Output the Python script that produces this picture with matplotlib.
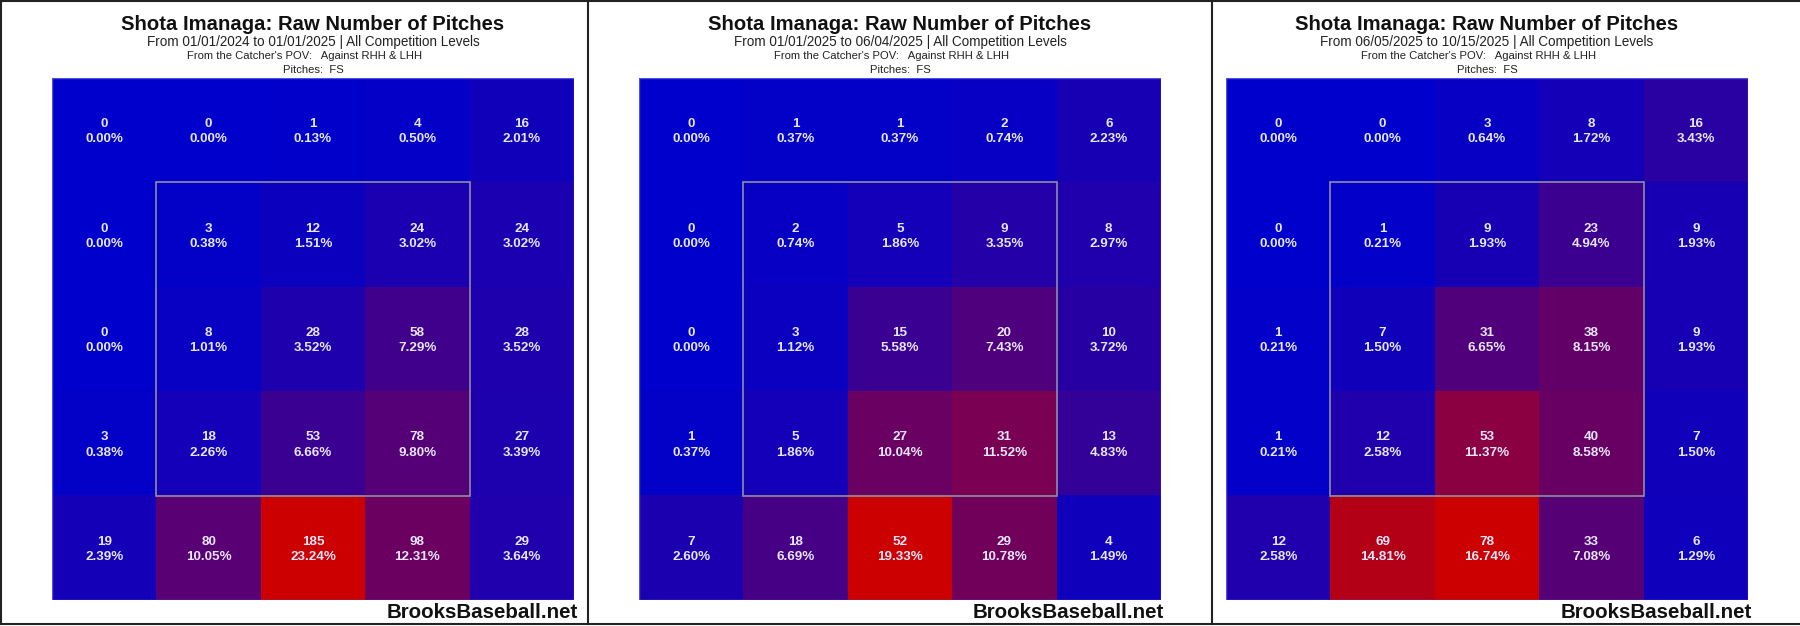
import numpy as np
import matplotlib.pyplot as plt
from matplotlib.colors import LinearSegmentedColormap
from matplotlib.patches import Rectangle
from matplotlib.lines import Line2D

plt.rcParams['font.family'] = ['Liberation Sans', 'DejaVu Sans']

player = "Shota Imanaga"
date_ranges = ["From 01/01/2024 to 01/01/2025 | All Competition Levels",
               "From 01/01/2025 to 06/04/2025 | All Competition Levels",
               "From 06/05/2025 to 10/15/2025 | All Competition Levels"]

# counts per zone, rows top -> bottom, columns left -> right (catcher's view)
counts_2024 = [[0, 0, 1, 4, 16],
               [0, 3, 12, 24, 24],
               [0, 8, 28, 58, 28],
               [3, 18, 53, 78, 27],
               [19, 80, 185, 98, 29]]
pct_2024 = [["0.00", "0.00", "0.13", "0.50", "2.01"],
            ["0.00", "0.38", "1.51", "3.02", "3.02"],
            ["0.00", "1.01", "3.52", "7.29", "3.52"],
            ["0.38", "2.26", "6.66", "9.80", "3.39"],
            ["2.39", "10.05", "23.24", "12.31", "3.64"]]

counts_early25 = [[0, 1, 1, 2, 6],
                  [0, 2, 5, 9, 8],
                  [0, 3, 15, 20, 10],
                  [1, 5, 27, 31, 13],
                  [7, 18, 52, 29, 4]]
pct_early25 = [["0.00", "0.37", "0.37", "0.74", "2.23"],
               ["0.00", "0.74", "1.86", "3.35", "2.97"],
               ["0.00", "1.12", "5.58", "7.43", "3.72"],
               ["0.37", "1.86", "10.04", "11.52", "4.83"],
               ["2.60", "6.69", "19.33", "10.78", "1.49"]]

counts_late25 = [[0, 0, 3, 8, 16],
                 [0, 1, 9, 23, 9],
                 [1, 7, 31, 38, 9],
                 [1, 12, 53, 40, 7],
                 [12, 69, 78, 33, 6]]
pct_late25 = [["0.00", "0.00", "0.64", "1.72", "3.43"],
              ["0.00", "0.21", "1.93", "4.94", "1.93"],
              ["0.21", "1.50", "6.65", "8.15", "1.93"],
              ["0.21", "2.58", "11.37", "8.58", "1.50"],
              ["2.58", "14.81", "16.74", "7.08", "1.29"]]

panels = [(counts_2024, pct_2024), (counts_early25, pct_early25), (counts_late25, pct_late25)]

W, H = 1800, 626
cmap = LinearSegmentedColormap.from_list("brooks", ["#0000cc", "#cc0000"])

fig = plt.figure(figsize=(W / 100, H / 100), dpi=100)
fig.patch.set_facecolor("white")

def fx(x):
    return x / W

def fy(y):
    return 1 - y / H

grid_left = [52, 639, 1226]
grid_top, grid_size = 78, 522

for i, (counts, pcts) in enumerate(panels):
    counts = np.array(counts)
    gx = grid_left[i]
    ax = fig.add_axes([fx(gx), fy(grid_top + grid_size), grid_size / W, grid_size / H])
    ax.imshow(counts, cmap=cmap, vmin=0, vmax=counts.max(), extent=(0, 5, 5, 0),
              interpolation="nearest", aspect="auto")
    ax.set_xlim(0, 5)
    ax.set_ylim(5, 0)
    ax.axis("off")
    ax.add_patch(Rectangle((0, 0), 5, 5, fill=False, edgecolor="#5050e0", lw=1.0))
    ax.add_patch(Rectangle((1, 1), 3, 3, fill=False, edgecolor="#8e8e9e", lw=1.2))
    for r in range(5):
        for c in range(5):
            ax.text(c + 0.5, r + 0.472, str(counts[r, c]), ha="center", va="baseline",
                    color="#e6e6fa", fontsize=9.7, fontweight="bold")
            ax.text(c + 0.5, r + 0.616, pcts[r][c] + "%", ha="center", va="baseline",
                    color="#e6e6fa", fontsize=9.7, fontweight="bold")

    cx = gx + grid_size / 2
    fig.text(fx(cx), fy(30), f"{player}: Raw Number of Pitches", ha="center",
             va="baseline", fontsize=14.6, fontweight="bold", color="#111111")
    fig.text(fx(cx), fy(46), date_ranges[i], ha="center", va="baseline",
             fontsize=9.75, color="#222222")
    fig.text(fx(cx - 8), fy(59.3), "From the Catcher's POV:   Against RHH & LHH",
             ha="center", va="baseline", fontsize=8.1, color="#222222")
    fig.text(fx(cx), fy(73.3), "Pitches:  FS", ha="center", va="baseline",
             fontsize=8.1, color="#222222")
    fig.text(fx(gx + grid_size + 3.5), fy(618), "BrooksBaseball.net", ha="right",
             va="baseline", fontsize=14.8, fontweight="bold", color="#111111")

# panel frames
for x in [0.8, 587.5, 1211.5]:
    fig.add_artist(Line2D([fx(x), fx(x)], [fy(0), fy(624)], color="#222222", lw=1.5))
for y in [0.8, 623.8]:
    fig.add_artist(Line2D([0, 1], [fy(y), fy(y)], color="#222222", lw=1.5))

fig.savefig("out.png", dpi=100)
